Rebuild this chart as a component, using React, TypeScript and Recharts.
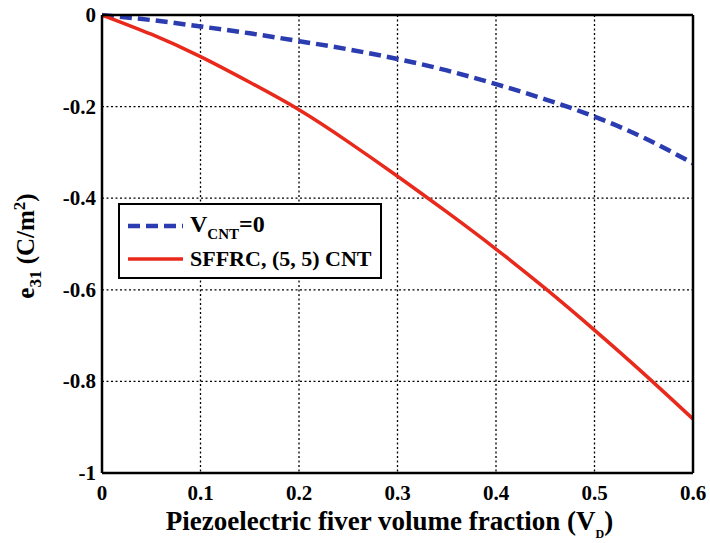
import { LineChart, Line, XAxis, YAxis, CartesianGrid, Legend } from 'recharts';

const fractions = [0, 0.05, 0.1, 0.15, 0.2, 0.25, 0.3, 0.35, 0.4, 0.45, 0.5, 0.55, 0.6];
const noCnt = [0, -0.011, -0.025, -0.04, -0.057, -0.075, -0.096, -0.121, -0.151, -0.184, -0.222, -0.268, -0.324];
const sffrc = [0, -0.042, -0.091, -0.147, -0.207, -0.277, -0.352, -0.43, -0.511, -0.597, -0.688, -0.783, -0.882];

const xTicks = [0, 0.1, 0.2, 0.3, 0.4, 0.5, 0.6];
const yTicks = [-1, -0.8, -0.6, -0.4, -0.2, 0];
const xMinorTicks = [
  0, 0.02, 0.04, 0.06, 0.08, 0.1, 0.12, 0.14, 0.16, 0.18, 0.2, 0.22, 0.24, 0.26, 0.28, 0.3,
  0.32, 0.34, 0.36, 0.38, 0.4, 0.42, 0.44, 0.46, 0.48, 0.5, 0.52, 0.54, 0.56, 0.58, 0.6,
];
const yMinorTicks = [
  -1, -0.95, -0.9, -0.85, -0.8, -0.75, -0.7, -0.65, -0.6, -0.55, -0.5, -0.45, -0.4, -0.35,
  -0.3, -0.25, -0.2, -0.15, -0.1, -0.05, 0,
];

const BLUE = '#2b3bb0';
const RED = '#e8291c';
const FONT = "'Liberation Serif', serif";

const data = fractions.map((x, i) => ({ x, noCnt: noCnt[i], sffrc: sffrc[i] }));

const axisLine = { stroke: '#000', strokeWidth: 2.5 };
const textStyle = { fontFamily: FONT, fontWeight: 700, fill: '#000' };

function XTick({ x, y, payload }: any) {
  return (
    <text x={x} y={y + 14} textAnchor="middle" style={{ ...textStyle, fontSize: 21 }}>
      {String(payload.value)}
    </text>
  );
}

function YTick({ x, y, payload }: any) {
  return (
    <text x={x} y={y + 7} textAnchor="end" style={{ ...textStyle, fontSize: 21 }}>
      {String(payload.value)}
    </text>
  );
}

function XTitle({ viewBox }: any) {
  const cx = viewBox.x + viewBox.width / 2 - 8;
  return (
    <text x={cx} y={viewBox.y + 57} textAnchor="middle" style={{ ...textStyle, fontSize: 27 }}>
      Piezoelectric fiver volume fraction (V
      <tspan dy={8} style={{ fontSize: 12 }}>D</tspan>
      <tspan dy={-8}>)</tspan>
    </text>
  );
}

function YTitle({ viewBox }: any) {
  const x = 34;
  const y = viewBox.y + viewBox.height / 2 + 2;
  return (
    <text
      x={x}
      y={y}
      transform={`rotate(-90, ${x}, ${y})`}
      textAnchor="middle"
      style={{ ...textStyle, fontSize: 25 }}
    >
      e<tspan dy={7} style={{ fontSize: 17 }}>31</tspan>
      <tspan dy={-7}>{'  (C/m'}</tspan>
      <tspan dy={-9} style={{ fontSize: 17 }}>2</tspan>
      <tspan dy={9}>)</tspan>
    </text>
  );
}

function LegendBox() {
  const row = { display: 'flex', alignItems: 'center', height: 33 };
  const label = { fontFamily: FONT, fontWeight: 700, fontSize: 22, color: '#000', lineHeight: '24px', whiteSpace: 'nowrap' as const };
  return (
    <div
      style={{
        boxSizing: 'border-box',
        width: 264,
        height: 76,
        border: '2.5px solid #000',
        background: '#fff',
        padding: '4px 0 0 8px',
      }}
    >
      <div style={row}>
        <svg width={62} height={10}>
          <line x1={0} y1={5} x2={55} y2={5} stroke={BLUE} strokeWidth={4.5} strokeDasharray="12 6" />
        </svg>
        <span style={{ ...label, fontSize: 24 }}>
          V<span style={{ fontSize: 15, position: 'relative', top: 7 }}>CNT</span>=0
        </span>
      </div>
      <div style={row}>
        <svg width={62} height={10}>
          <line x1={0} y1={5} x2={55} y2={5} stroke={RED} strokeWidth={3.5} />
        </svg>
        <span style={label}>SFFRC, (5, 5) CNT</span>
      </div>
    </div>
  );
}

export default function App() {
  return (
    <div style={{ position: 'absolute', left: 0, top: 0, background: '#fff' }}>
      <LineChart width={710} height={543} data={data} margin={{ top: 15, right: 17, bottom: 0, left: 0 }}>
        <CartesianGrid stroke="#000" strokeWidth={1.3} strokeDasharray="2 2.5" />
        <XAxis
          dataKey="x"
          type="number"
          domain={[0, 0.6]}
          ticks={xTicks}
          interval={0}
          height={70}
          axisLine={axisLine}
          tickLine={false}
          tickSize={0}
          tickMargin={13}
          tick={<XTick />}
          label={<XTitle />}
        />
        <YAxis
          type="number"
          domain={[-1, 0]}
          ticks={yTicks}
          interval={0}
          width={102}
          axisLine={axisLine}
          tickLine={false}
          tickSize={0}
          tickMargin={6}
          tick={<YTick />}
          label={<YTitle />}
        />
        <XAxis
          xAxisId="bottomMinor"
          type="number"
          domain={[0, 0.6]}
          allowDataOverflow
          ticks={xMinorTicks}
          interval={0}
          mirror
          axisLine={false}
          tick={false}
          tickLine={{ stroke: '#000', strokeWidth: 2 }}
          tickSize={5}
        />
        <XAxis
          xAxisId="topMinor"
          orientation="top"
          type="number"
          domain={[0, 0.6]}
          allowDataOverflow
          ticks={xMinorTicks}
          interval={0}
          mirror
          axisLine={axisLine}
          tick={false}
          tickLine={{ stroke: '#000', strokeWidth: 2 }}
          tickSize={5}
        />
        <YAxis
          yAxisId="leftMinor"
          type="number"
          domain={[-1, 0]}
          allowDataOverflow
          ticks={yMinorTicks}
          interval={0}
          mirror
          axisLine={false}
          tick={false}
          tickLine={{ stroke: '#000', strokeWidth: 2 }}
          tickSize={5}
        />
        <YAxis
          yAxisId="rightMinor"
          orientation="right"
          type="number"
          domain={[-1, 0]}
          allowDataOverflow
          ticks={yMinorTicks}
          interval={0}
          mirror
          axisLine={axisLine}
          tick={false}
          tickLine={{ stroke: '#000', strokeWidth: 2 }}
          tickSize={5}
        />
        <Legend
          layout="vertical"
          align="center"
          verticalAlign="middle"
          content={<LegendBox />}
          wrapperStyle={{ left: 118, top: 203, width: 264, height: 76 }}
        />
        <Line
          dataKey="noCnt"
          type="natural"
          stroke={BLUE}
          strokeWidth={4.5}
          strokeDasharray="12 6"
          dot={false}
          isAnimationActive={false}
        />
        <Line
          dataKey="sffrc"
          type="natural"
          stroke={RED}
          strokeWidth={3.5}
          dot={false}
          isAnimationActive={false}
        />
      </LineChart>
    </div>
  );
}
